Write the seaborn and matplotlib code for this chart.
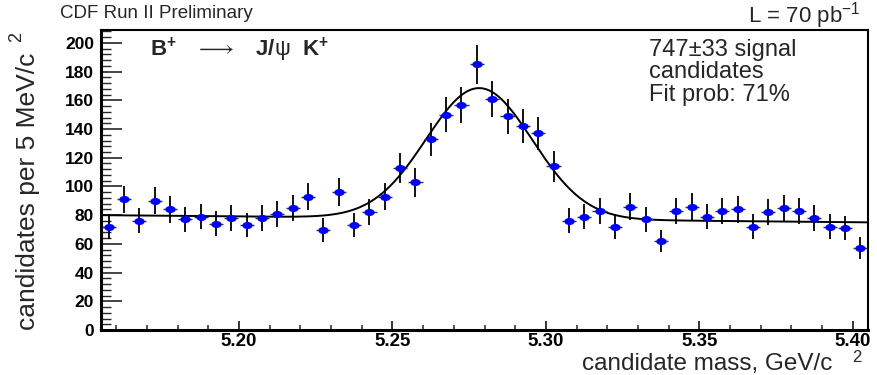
import numpy as np
import pandas as pd
import matplotlib
matplotlib.use("Agg")
import matplotlib.pyplot as plt
from matplotlib.path import Path
from matplotlib.transforms import Affine2D
from matplotlib.ticker import MultipleLocator
import seaborn as sns

# ---- data ----
bin_lo = 5.155
bin_width = 0.005
counts = [72, 91, 76, 90, 84, 77, 79, 74, 78, 73,
          78, 81, 85, 93, 70, 96, 73, 82, 93, 113,
          103, 133, 150, 157, 185, 161, 149, 142, 137, 114,
          76, 79, 83, 72, 86, 77, 62, 83, 86, 79,
          83, 84, 72, 82, 85, 83, 78, 72, 71, 57]
# fit model parameters (Gaussian + linear background)
fit_mean = 5.2783
fit_sigma = 0.0173
fit_amp = 91.0
bkg_left = 80.0
bkg_right = 75.0
x_min, x_max = 5.155, 5.405
y_max = 209
xtick_vals = [5.20, 5.25, 5.30, 5.35, 5.40]
xtick_labels = ["5.20", "5.25", "5.30", "5.35", "5.40"]

centers = bin_lo + bin_width * (np.arange(len(counts)) + 0.5)
df = pd.DataFrame({"mass": centers, "n": counts})
df["err"] = np.sqrt(df["n"])

xf = np.linspace(x_min, x_max, 600)
bkg = bkg_left + (bkg_right - bkg_left) * (xf - x_min) / (x_max - x_min)
fit = bkg + fit_amp * np.exp(-0.5 * ((xf - fit_mean) / fit_sigma) ** 2)
fdf = pd.DataFrame({"mass": xf, "fit": fit})

sns.set_theme(style="white")
plt.rcParams["font.family"] = ["Liberation Sans", "DejaVu Sans"]
plt.rcParams["mathtext.fontset"] = "custom"
plt.rcParams["mathtext.rm"] = "Liberation Sans"
plt.rcParams["mathtext.it"] = "Liberation Sans:italic"
plt.rcParams["mathtext.bf"] = "Liberation Sans:bold"
plt.rcParams["mathtext.sf"] = "Liberation Sans"

fig = plt.figure(figsize=(8.77, 3.75), dpi=100)
ax = fig.add_axes([101 / 877, 45 / 375, 767 / 877, 300 / 375])

# fit curve
sns.lineplot(data=fdf, x="mass", y="fit", ax=ax, color="black", lw=1.4, zorder=3)

# error bars
ax.errorbar(df["mass"], df["n"], yerr=df["err"], fmt="none", ecolor="black",
            elinewidth=1.3, capsize=0, zorder=4)
ax.errorbar(df["mass"], df["n"], xerr=bin_width / 2 * 0.92, fmt="none",
            ecolor="#333333", elinewidth=1.0, capsize=0, zorder=4)

# elliptical markers
ell = Path.unit_circle().transformed(Affine2D().scale(1.45, 1.0))
sns.scatterplot(data=df, x="mass", y="n", ax=ax, marker=ell, s=55,
                color="#0000ff", edgecolor="#0000ff", linewidth=0, zorder=5)

ax.set_xlim(x_min, x_max)
ax.set_ylim(0, y_max)
ax.set_xlabel("")
ax.set_ylabel("")

ax.xaxis.set_minor_locator(MultipleLocator(0.01))
ax.yaxis.set_major_locator(MultipleLocator(20))
ax.yaxis.set_minor_locator(MultipleLocator(4))
ax.set_xticks(xtick_vals)
ax.set_xticklabels(xtick_labels)
ax.tick_params(axis="x", which="major", direction="in", length=6.5, width=1.3,
               bottom=True, top=False, pad=2.5)
ax.tick_params(axis="x", which="minor", direction="in", length=3.3, width=1.1,
               bottom=True, top=False)
ax.tick_params(axis="y", which="major", direction="in", length=15, width=1.2,
               left=True, right=False, pad=5)
ax.tick_params(axis="y", which="minor", direction="in", length=7.5, width=1.0,
               left=True, right=False)
for lab in ax.get_xticklabels():
    lab.set_fontweight("bold")
    lab.set_fontsize(13.5)
    lab.set_color("black")
for lab in ax.get_yticklabels():
    lab.set_fontweight("bold")
    lab.set_fontsize(12.5)
    lab.set_color("black")

for side in ["left", "bottom"]:
    ax.spines[side].set_linewidth(2.2)
    ax.spines[side].set_color("black")
for side in ["top", "right"]:
    ax.spines[side].set_linewidth(1.5)
    ax.spines[side].set_color("black")
ax.spines["right"].set_visible(True)
ax.spines["top"].set_visible(True)

# texts
fig.text(60 / 877, 1 - 14 / 375, "CDF Run II Preliminary", fontsize=13.5,
         ha="left", va="center")
fig.text(860 / 877, 1 - 16 / 375, "L = 70 pb$^{-1}$", fontsize=16,
         ha="right", va="center")
ax.text(0.064, 0.935,
        "$\\mathbf{B^{+}}$   $\\longrightarrow$   $\\mathbf{J/}$\u03c8  $\\mathbf{K^{+}}$",
        transform=ax.transAxes, fontsize=16, ha="left", va="center")
ax.text(0.715, 0.97, "747\u00b133 signal\ncandidates\nFit prob: 71%",
        transform=ax.transAxes, fontsize=17, ha="left", va="top", linespacing=1.02)

fig.text(28 / 877, 45 / 375, "candidates per 5 MeV/c", rotation=90, fontsize=19,
         ha="center", va="bottom")
fig.text(17 / 877, 1 - 37 / 375, "2", rotation=90, fontsize=13,
         ha="center", va="center")
fig.text(832 / 877, 1 - 364 / 375, "candidate mass, GeV/c", fontsize=17.5,
         ha="right", va="center")
fig.text(857 / 877, 1 - 358 / 375, "2", fontsize=12, ha="center", va="center")

fig.savefig("out.png", dpi=100)
